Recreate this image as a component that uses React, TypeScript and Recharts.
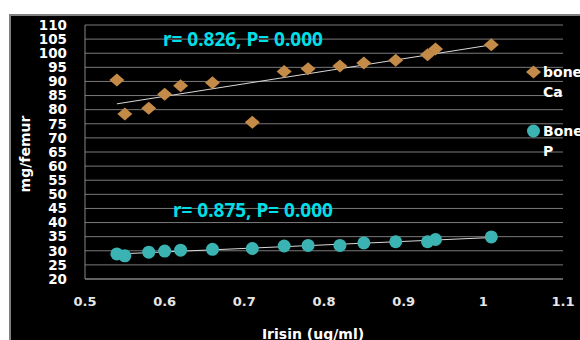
import React from "react";
import {
    ScatterChart,
    Scatter,
    XAxis,
    YAxis,
    CartesianGrid,
    Legend,
    ReferenceLine,
} from "recharts";

// values
const irisin = [0.54, 0.55, 0.58, 0.6, 0.62, 0.66, 0.71, 0.75, 0.78, 0.82, 0.85, 0.89, 0.93, 0.94, 1.01];
const boneCa = [90.5, 78.5, 80.5, 85.5, 88.5, 89.5, 75.5, 93.5, 94.5, 95.5, 96.5, 97.5, 99.5, 101.5, 103];
const boneP = [28.9, 28.2, 29.5, 29.9, 30.2, 30.5, 30.8, 31.7, 31.9, 31.9, 32.8, 33.2, 33.2, 34.0, 34.9];

const seriesNames = ["bone Ca", "Bone P"];
const xTicks = [0.5, 0.6, 0.7, 0.8, 0.9, 1, 1.1];
const yTicks = [20, 25, 30, 35, 40, 45, 50, 55, 60, 65, 70, 75, 80, 85, 90, 95, 100, 105, 110];

const caData = irisin.map((x, i) => ({ x, y: boneCa[i] }));
const pData = irisin.map((x, i) => ({ x, y: boneP[i] }));

// least squares trend line, like excel's linear trendline
function trend(xs: number[], ys: number[]) {
    const n = xs.length;
    const mx = xs.reduce((a, b) => a + b, 0) / n;
    const my = ys.reduce((a, b) => a + b, 0) / n;
    let sxy = 0;
    let sxx = 0;
    xs.forEach((x, i) => {
        sxy += (x - mx) * (ys[i] - my);
        sxx += (x - mx) * (x - mx);
    });
    const k = sxy / sxx;
    const x0 = Math.min(...xs);
    const x1 = Math.max(...xs);
    return [
        { x: x0, y: my + k * (x0 - mx) },
        { x: x1, y: my + k * (x1 - mx) },
    ];
}

const CA_COLOR = "#c48a47";
const P_COLOR = "#3bb3b3";
const FONT = "'DejaVu Sans', Verdana, sans-serif";

const Diamond = (props: any) => {
    const { cx, cy } = props;
    return (
        <polygon
            points={`${cx - 7.5},${cy} ${cx},${cy - 6.5} ${cx + 7.5},${cy} ${cx},${cy + 6.5}`}
            fill={CA_COLOR}
        />
    );
};

const Dot = (props: any) => <circle cx={props.cx} cy={props.cy} r={6.5} fill={P_COLOR} />;

const renderLegend = (props: any) => {
    const items = [...props.payload].sort(
        (a: any, b: any) => seriesNames.indexOf(a.value) - seriesNames.indexOf(b.value)
    );
    return (
        <div style={{ fontFamily: FONT, fontWeight: "bold", fontSize: 14, color: "#fff" }}>
            {items.map((entry: any, i: number) => (
                <div key={i} style={{ display: "flex", alignItems: "flex-start", marginBottom: 19 }}>
                    <svg width={15} height={20} style={{ flex: "none" }}>
                        {entry.type === "diamond" ? (
                            <polygon points="0,10 7.5,3.5 15,10 7.5,16.5" fill={entry.color} />
                        ) : (
                            <circle cx={7.5} cy={10} r={6.5} fill={entry.color} />
                        )}
                    </svg>
                    <span style={{ marginLeft: 2, width: 40, lineHeight: "20px" }}>{entry.value}</span>
                </div>
            ))}
        </div>
    );
};

const noteStyle: React.CSSProperties = {
    position: "absolute",
    lineHeight: "22px",
    fontSize: 19,
    fontWeight: "bold",
    fontFamily: "'Noto Sans', sans-serif",
    color: "#00dfe6",
    whiteSpace: "nowrap",
};

export default function App() {
    const caLine = trend(irisin, boneCa);
    const pLine = trend(irisin, boneP);
    return (
        <div
            style={{
                position: "fixed",
                left: 0,
                top: 0,
                width: 580,
                height: 340,
                background: "#fff",
                overflow: "hidden",
                fontFamily: FONT,
            }}
        >
            <div
                style={{
                    position: "absolute",
                    left: 9,
                    top: 14,
                    width: 600,
                    height: 360,
                    background: "#000",
                    borderLeft: "2px solid #808080",
                    borderTop: "2px solid #808080",
                }}
            />
            <div style={{ position: "absolute", left: 0, top: 0 }}>
                <ScatterChart width={580} height={340} margin={{ top: 25, right: 17, bottom: 0, left: 0 }}>
                    <CartesianGrid vertical={false} stroke="#7a7a7a" />
                    <XAxis
                        type="number"
                        dataKey="x"
                        domain={[0.5, 1.1]}
                        ticks={xTicks}
                        interval={0}
                        height={61}
                        stroke="#868686"
                        tickLine={false}
                        tickSize={0}
                        tickMargin={18}
                        tick={{ fill: "#e6e6e6", fontSize: 13, fontWeight: "bold", fontFamily: FONT }}
                    />
                    <YAxis
                        type="number"
                        dataKey="y"
                        domain={[20, 110]}
                        ticks={yTicks}
                        interval={0}
                        width={85}
                        stroke="#868686"
                        tickLine={false}
                        tickSize={0}
                        tickMargin={18}
                        tick={{ fill: "#ffffff", fontSize: 13.5, fontWeight: "bold", fontFamily: FONT }}
                    />
                    <ReferenceLine segment={caLine} stroke="#d9d9d9" strokeWidth={1} />
                    <ReferenceLine segment={pLine} stroke="#d9d9d9" strokeWidth={1} />
                    <Scatter
                        name={seriesNames[0]}
                        data={caData}
                        fill={CA_COLOR}
                        legendType="diamond"
                        shape={Diamond}
                        isAnimationActive={false}
                    />
                    <Scatter
                        name={seriesNames[1]}
                        data={pData}
                        fill={P_COLOR}
                        legendType="circle"
                        shape={Dot}
                        isAnimationActive={false}
                    />
                    <Legend
                        layout="horizontal"
                        verticalAlign="middle"
                        align="center"
                        content={renderLegend}
                        wrapperStyle={{ left: 526, top: 62, width: 80 }}
                    />
                </ScatterChart>
            </div>
            <div style={{ ...noteStyle, left: 163, top: 28 }}>r= 0.826, P= 0.000</div>
            <div style={{ ...noteStyle, left: 173, top: 199 }}>r= 0.875, P= 0.000</div>
            <div
                style={{
                    position: "absolute",
                    left: 25,
                    top: 154,
                    transform: "translate(-50%, -50%) rotate(-90deg)",
                    fontSize: 14,
                    fontWeight: "bold",
                    color: "#fff",
                    whiteSpace: "nowrap",
                    lineHeight: "16px",
                }}
            >
                mg/femur
            </div>
            <div
                style={{
                    position: "absolute",
                    left: 313,
                    top: 326,
                    transform: "translateX(-50%)",
                    fontSize: 14,
                    fontWeight: "bold",
                    color: "#fff",
                    whiteSpace: "nowrap",
                    lineHeight: "16px",
                }}
            >
                Irisin (ug/ml)
            </div>
        </div>
    );
}
